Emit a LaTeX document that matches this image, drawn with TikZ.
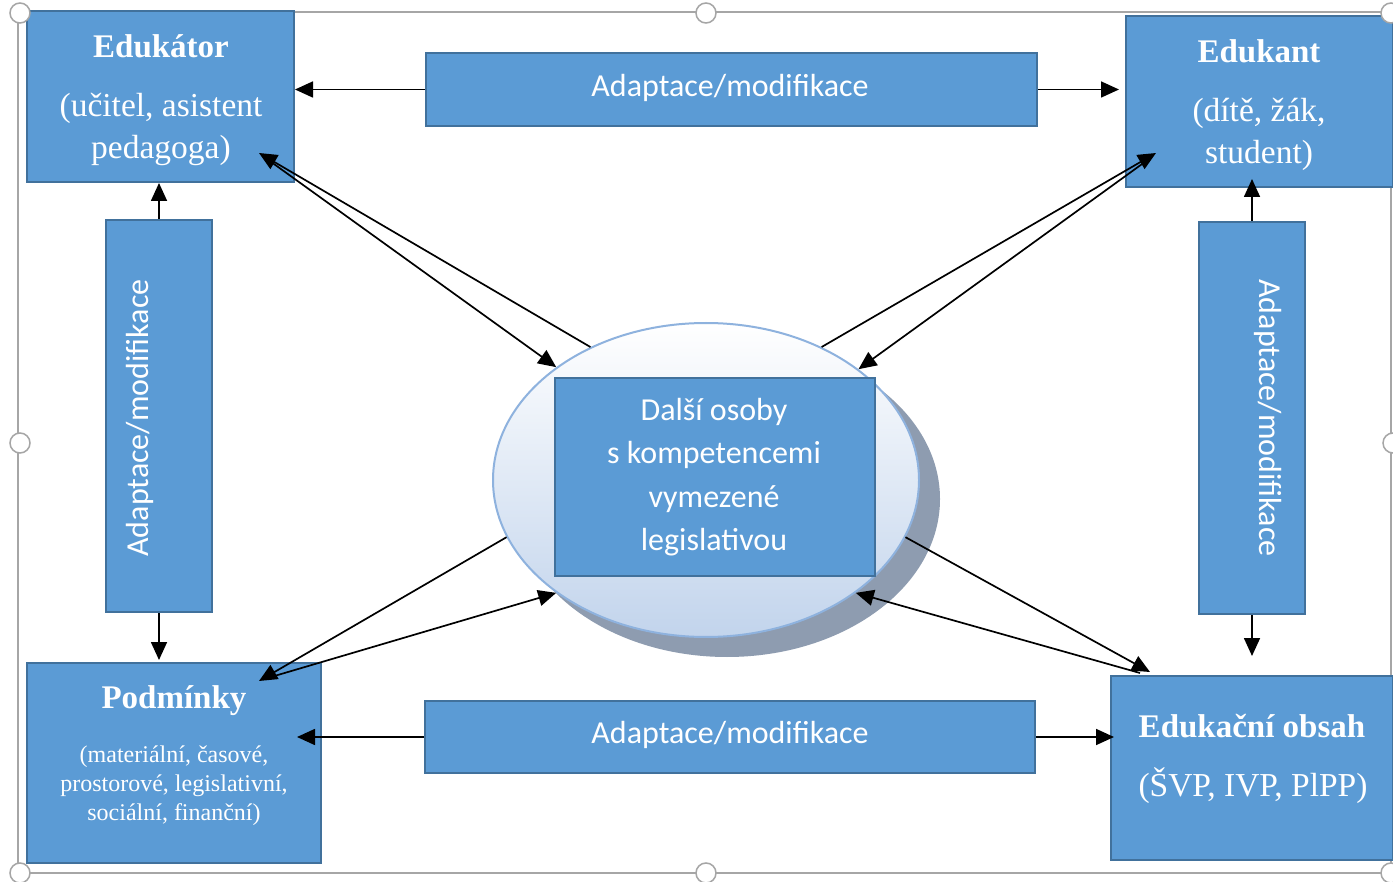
\documentclass[tikz,border=0pt]{standalone}
\usepackage{fontspec}
\setmainfont{Liberation Serif}
\newfontfamily\calib{Carlito}
\usetikzlibrary{arrows.meta,shapes.geometric,calc}
\definecolor{boxfill}{HTML}{5B9BD5}
\definecolor{boxline}{HTML}{41719C}
\definecolor{ellline}{HTML}{8EB2DE}
\definecolor{ellbot}{HTML}{C2D4EC}
\definecolor{shadowc}{HTML}{8E9CB0}
\definecolor{framec}{HTML}{A6A6A6}
\tikzset{
  bluebox/.style={draw=boxline, line width=2pt, fill=boxfill, inner sep=0pt},
  head/.style={text=white, font=\fontsize{33}{38}\selectfont\bfseries, inner sep=0pt},
  body/.style={text=white, align=center, font=\fontsize{33.5}{42}\selectfont, inner sep=0pt},
  small/.style={text=white, align=center, font=\fontsize{24}{29}\selectfont, inner sep=0pt},
  sans/.style={text=white, align=center, font=\calib\fontsize{32}{43.5}\selectfont, inner sep=0pt},
  arr/.style={line width=1.7pt, -{Triangle[length=18pt,width=16pt]}},
  handle/.style={circle, draw=framec, fill=white, line width=1.5pt, minimum size=20pt, inner sep=0pt}
}
\begin{document}
\begin{tikzpicture}[x=1pt,y=-1pt]
\useasboundingbox (0,0) rectangle (1393,882);
\fill[white] (0,0) rectangle (1393,882);
% selection frame
\draw[framec, line width=1.5pt] (18,12) rectangle (1391,873);
% ellipse with shadow
\fill[shadowc] (727,499) ellipse [x radius=213, y radius=158];
\node[ellipse, draw=ellline, line width=2pt, top color=white, bottom color=ellbot,
      minimum width=426pt, minimum height=314pt] (ell) at (706,480) {};
% boxes
\node[bluebox, minimum width=267pt, minimum height=171pt] (edukator) at (160.5,96.5) {};
\node[bluebox, minimum width=267pt, minimum height=171pt] (edukant) at (1259.5,101.5) {};
\node[bluebox, minimum width=611pt, minimum height=73pt] (adtop) at (731.5,89.5) {};
\node[bluebox, minimum width=106pt, minimum height=392pt] (adleft) at (159,416) {};
\node[bluebox, minimum width=106pt, minimum height=392pt] (adright) at (1252,418) {};
\node[bluebox, minimum width=294pt, minimum height=200pt] (podminky) at (174,763) {};
\node[bluebox, minimum width=610pt, minimum height=72pt] (adbot) at (730,737) {};
\node[bluebox, minimum width=282pt, minimum height=184pt] (obsah) at (1252,768) {};
\node[bluebox, minimum width=320pt, minimum height=198pt] (dalsi) at (714.5,477) {};
% texts
\node[head] (t1h) at (161,46) {Edukátor};
\node[body] (t1b) at (161,129) {(učitel, asistent\\pedagoga)};
\node[head] (t2h) at (1259,51) {Edukant};
\node[body] (t2b) at (1259,134) {(dítě, žák,\\student)};
\node[head] (t3h) at (174,701) {Podmínky};
\node[small] (t3b) at (174,786) {(materiální, časové,\\prostorové, legislativní,\\sociální, finanční)};
\node[head] (t4h) at (1252,726) {Edukační obsah};
\node[body] (t4b) at (1253,786) {(ŠVP, IVP, PlPP)};
\node[sans] (t5) at (714,477) {Další osoby\\s kompetencemi\\vymezené\\legislativou};
\node[sans] (t6) at (730,88) {Adaptace/modifikace};
\node[sans] (t7) at (730,735) {Adaptace/modifikace};
\node[sans, rotate=90] (t8) at (140,418) {Adaptace/modifikace};
\node[sans, rotate=-90] (t9) at (1268,418) {Adaptace/modifikace};
% straight arrows
\draw[arr] (adtop.west) -- (adtop.west -| edukator.east);
\draw[arr] (adtop.east) -- ($(adtop.east -| edukant.west)+(-6,0)$);
\draw[arr] (adleft.north) -- (adleft.north |- edukator.south);
\draw[arr] (adleft.south) -- ($(adleft.south |- podminky.north)+(0,-2)$);
\draw[arr] (adright.north) -- ($(adright.north |- edukant.south)+(0,-9)$);
\draw[arr] (adright.south) -- ($(adright.south |- obsah.north)+(0,-19)$);
\draw[arr] (adbot.west) -- ($(adbot.west -| podminky.east)+(-25,0)$);
\draw[arr] (adbot.east) -- ($(adbot.east -| obsah.west)+(4,0)$);
% diagonal arrows
\coordinate (e1tip) at ($(edukator.south east)+(-36,-30)$);
\coordinate (e1st) at ($(edukator.south east)+(-28,-24)$);
\draw[arr] (ell.131) -- (e1tip);
\draw[arr] (e1st) -- (ell.143);
\coordinate (e2tip) at ($(edukant.south west)+(31,-35)$);
\coordinate (e2st) at ($(edukant.south west)+(24,-29)$);
\draw[arr] (ell.49) -- (e2tip);
\draw[arr] (e2st) -- (ell.36);
\coordinate (e3tip) at ($(podminky.north east)+(-63,19)$);
\coordinate (e3st) at ($(podminky.north east)+(-51,15)$);
\draw[arr] (ell.196) -- (e3tip);
\draw[arr] (e3st) -- (ell.217);
\coordinate (e4tip) at ($(obsah.north west)+(40,-3)$);
\coordinate (e4st) at ($(obsah.north west)+(30,-2)$);
\draw[arr] (ell.344) -- (e4tip);
\draw[arr] (e4st) -- (ell.323.5);
% handles
\node[handle] (h1) at (20,13) {};
\node[handle] (h2) at (706,13) {};
\node[handle] (h3) at (1391,13) {};
\node[handle] (h4) at (20,443) {};
\node[handle] (h5) at (1393,443) {};
\node[handle] (h6) at (20,873) {};
\node[handle] (h7) at (706,873) {};
\node[handle] (h8) at (1391,873) {};
\end{tikzpicture}
\end{document}
